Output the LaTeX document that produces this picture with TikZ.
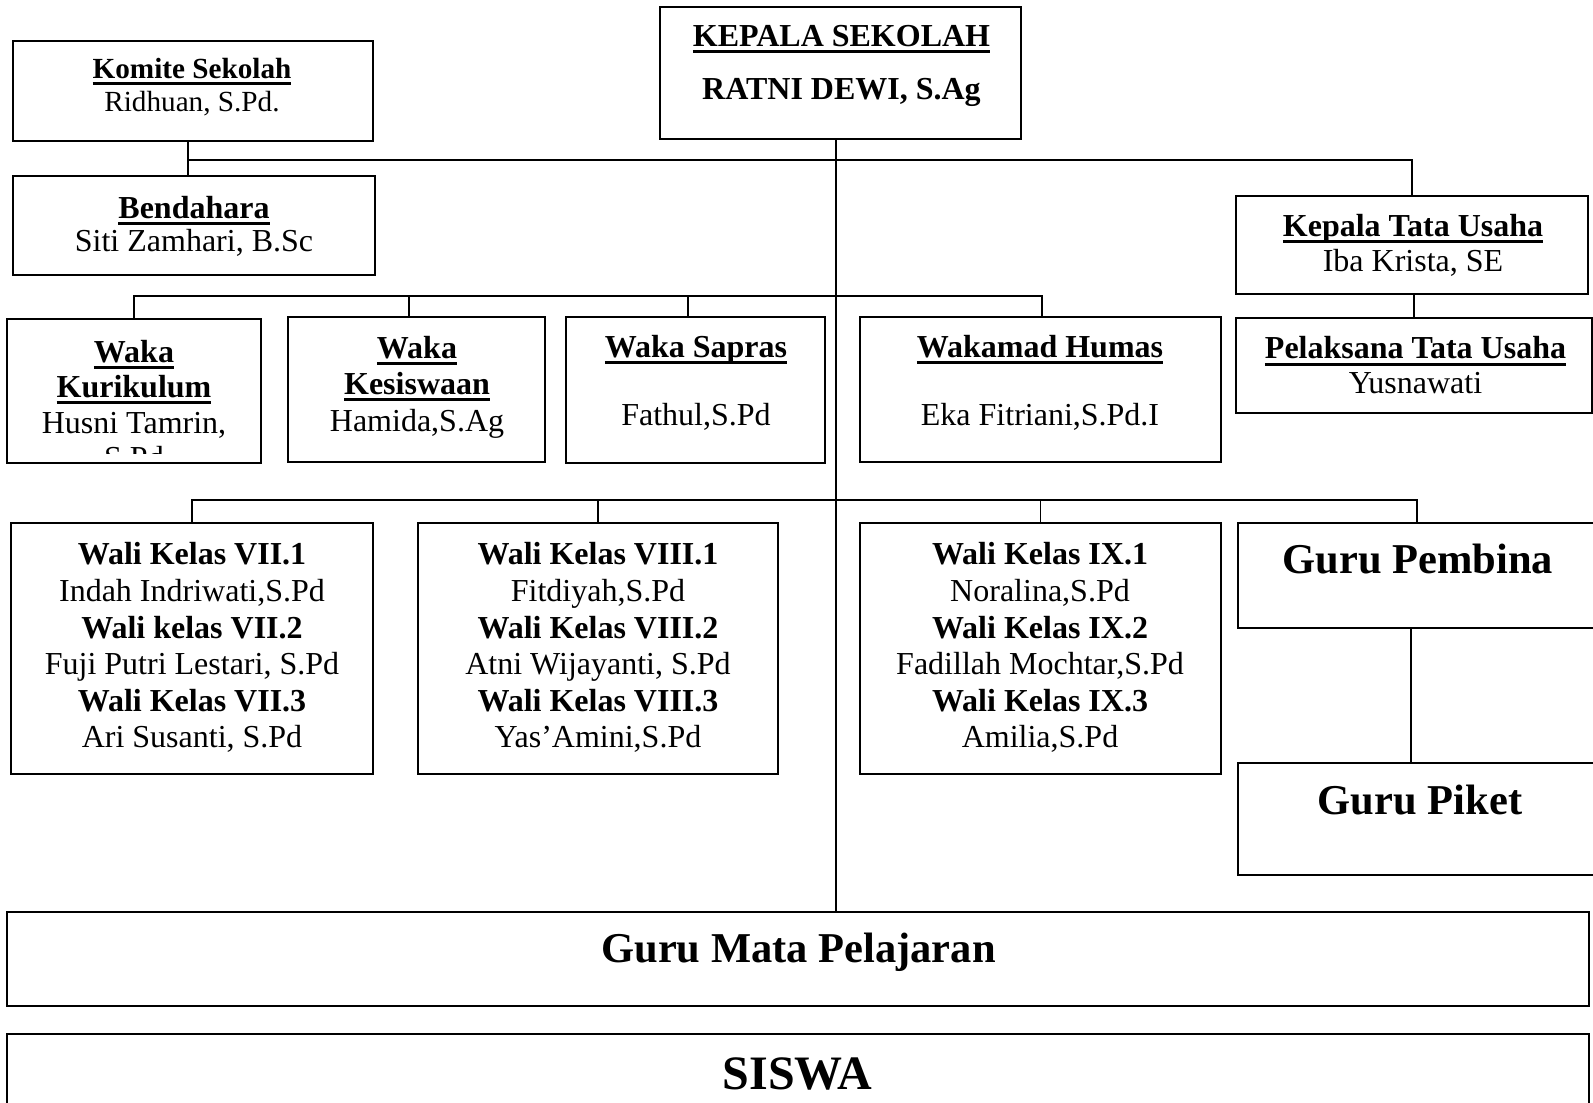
\documentclass[tikz,border=0pt]{standalone}
\usepackage{fontspec}
\setmainfont{Liberation Serif}
\usetikzlibrary{fit}
\newcommand{\garis}[1]{\leavevmode\setbox0=\hbox{#1}\rlap{\vrule height -1.8pt depth 3.3pt width \wd0}\box0}
\tikzset{
  unitbox/.style={draw, line width=1pt, inner sep=0pt},
  link/.style={line width=0.8pt, line cap=rect},
  txt/.style={inner sep=0pt, align=center, font=\fontsize{16}{18.3}\selectfont},
  bigtxt/.style={inner sep=0pt, font=\fontsize{21.25}{25}\selectfont\bfseries},
}

\begin{document}
\begin{tikzpicture}[x=0.5pt,y=-0.5pt]
\useasboundingbox (0,0) rectangle (1593,1102);
\clip (0,0) rectangle (1593,1102);
\node[unitbox, fit={(660,7) (1021,139)}] (ks) {};
\node[unitbox, fit={(13,41) (373,141)}] (komite) {};
\node[unitbox, fit={(13,176) (375,275)}] (bendahara) {};
\node[unitbox, fit={(1236,196) (1588,294)}] (ktu) {};
\node[unitbox, fit={(1236,318) (1592,413)}] (ptu) {};
\node[unitbox, fit={(7,319) (261,463)}] (kurikulum) {};
\node[unitbox, fit={(288,317) (545,462)}] (kesiswaan) {};
\node[unitbox, fit={(566,317) (825,463)}] (sapras) {};
\node[unitbox, fit={(860,317) (1221,462)}] (humas) {};
\node[unitbox, fit={(11,523) (373,774)}] (w7) {};
\node[unitbox, fit={(418,523) (778,774)}] (w8) {};
\node[unitbox, fit={(860,523) (1221,774)}] (w9) {};
\node[unitbox, fit={(1238,523) (1596,628)}] (pembina) {};
\node[unitbox, fit={(1238,763) (1596,875)}] (piket) {};
\node[unitbox, fit={(7,912) (1589,1006)}] (mapel) {};
\node[unitbox, fit={(7,1034) (1589,1120)}] (siswa) {};

\node[txt] (ks-t) at (841.5,65.9) {\garis{\textbf{KEPALA SEKOLAH}}\\[8.3pt]\textbf{RATNI DEWI, S.Ag}};
\node[txt, font=\fontsize{14.6}{16.7}\selectfont] (komite-t) at (192,87) {\garis{\textbf{Komite Sekolah}}\\Ridhuan, S.Pd.};
\node[txt, font=\fontsize{16}{16.7}\selectfont] (bendahara-t) at (194,226.3) {\garis{\textbf{Bendahara}}\\Siti Zamhari, B.Sc};
\node[txt, font=\fontsize{16}{17.5}\selectfont] (ktu-t) at (1413,245.5) {\garis{\textbf{Kepala Tata Usaha}}\\Iba Krista, SE};
\node[txt, font=\fontsize{16}{17.2}\selectfont] (ptu-t) at (1415.5,365.2) {\garis{\textbf{Pelaksana Tata Usaha}}\\Yusnawati};
\begin{scope}
\clip (9,321) rectangle (259,453);
\node[txt, font=\fontsize{16}{17.75}\selectfont] (kurikulum-t) at (134,404.5) {\garis{\textbf{Waka}}\\\garis{\textbf{Kurikulum}}\\Husni Tamrin,\\S.Pd};
\end{scope}
\node[txt, font=\fontsize{16}{18.25}\selectfont] (kesiswaan-t) at (417,387) {\garis{\textbf{Waka}}\\\garis{\textbf{Kesiswaan}}\\Hamida,S.Ag};
\node[txt] (sapras-t) at (696,349.5) {\garis{\textbf{Waka Sapras}}};
\node[txt] (sapras-n) at (696,417) {Fathul,S.Pd};
\node[txt] (humas-t) at (1040,349.3) {\garis{\textbf{Wakamad Humas}}};
\node[txt] (humas-n) at (1040,417) {Eka Fitriani,S.Pd.I};
\node[txt] (w7-t) at (192,647.8) {\textbf{Wali Kelas VII.1}\\Indah Indriwati,S.Pd\\\textbf{Wali kelas VII.2}\\Fuji Putri Lestari, S.Pd\\\textbf{Wali Kelas VII.3}\\Ari Susanti, S.Pd};
\node[txt] (w8-t) at (598,647.8) {\textbf{Wali Kelas VIII.1}\\Fitdiyah,S.Pd\\\textbf{Wali Kelas VIII.2}\\Atni Wijayanti, S.Pd\\\textbf{Wali Kelas VIII.3}\\Yas’Amini,S.Pd};
\node[txt] (w9-t) at (1040,647.8) {\textbf{Wali Kelas IX.1}\\Noralina,S.Pd\\\textbf{Wali Kelas IX.2}\\Fadillah Mochtar,S.Pd\\\textbf{Wali Kelas IX.3}\\Amilia,S.Pd};
\node[bigtxt] (pembina-t) at (1418,559.5) {Guru Pembina};
\node[bigtxt] (piket-t) at (1420,800.5) {Guru Piket};
\node[bigtxt] (mapel-t) at (798.5,952) {Guru Mata Pelajaran};
\node[bigtxt, font=\fontsize{24}{28}\selectfont\bfseries] (siswa-t) at (797.5,1074) {SISWA};

\coordinate (trunk) at (836,0);
\coordinate (topbus) at (188,160);
\coordinate (wakabus) at (0,296);
\coordinate (walibus) at (0,500);
\draw[link] (ks.south -| trunk) -- (mapel.north -| trunk);
\draw[link] (komite.south -| topbus) -- (bendahara.north -| topbus);
\draw[link] (topbus) -| (ktu.north);
\draw[link] (ptu.north |- ktu.south) -- (ptu.north);
\foreach \n/\d in {kurikulum/0pt,kesiswaan/-3.75pt,sapras/-3.75pt,humas/0.75pt}
  \coordinate (\n-top) at ([xshift=\d]\n.north);
\draw[link] (kurikulum-top |- wakabus) -- (humas-top |- wakabus);
\foreach \n in {kurikulum,kesiswaan,sapras,humas}
  \draw[link] (\n-top |- wakabus) -- (\n-top);
\draw[link] (w7.north |- walibus) -- (pembina.north |- walibus);
\foreach \n in {w7,w8,w9,pembina}
  \draw[link] (\n.north |- walibus) -- (\n.north);
\coordinate (pembina-bot) at ([xshift=-3pt]pembina.south);
\draw[link] (pembina-bot) -- (pembina-bot |- piket.north);
\end{tikzpicture}
\end{document}
